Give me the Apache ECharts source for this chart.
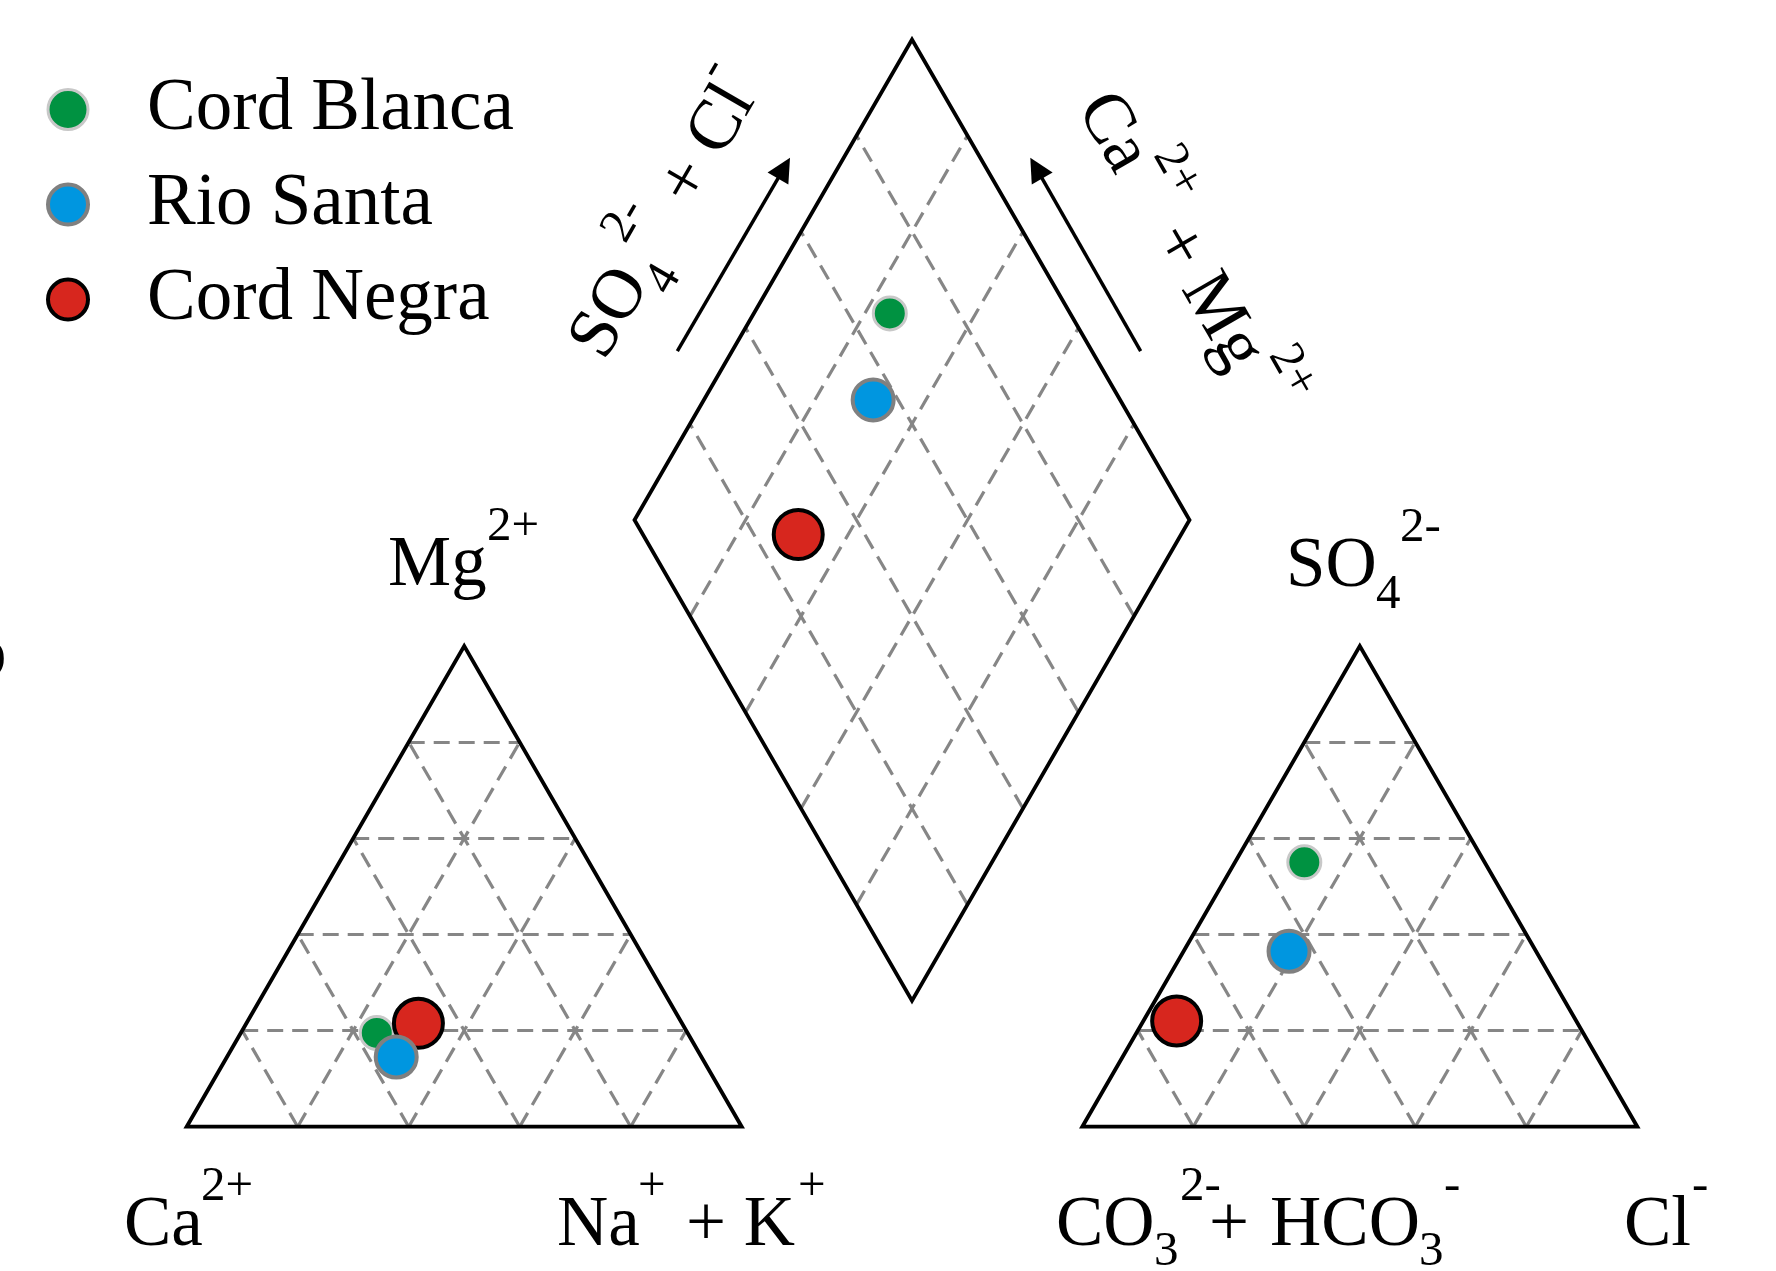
<!DOCTYPE html>
<html>
<head>
<meta charset="utf-8">
<script src="https://cdn.jsdelivr.net/npm/echarts@6/dist/echarts.min.js"></script>
<style>
  html, body { margin: 0; padding: 0; background: #ffffff; }
  #chart { width: 1776px; height: 1271px; }
</style>
</head>
<body>
<div id="chart"></div>
<script>
// Piper diagram: cation triangle, anion triangle and the central diamond.

// Sample groups
const samples = ['Cord Blanca', 'Rio Santa', 'Cord Negra'];

// Cations, % meq
const caPct  = [56, 55, 47.5];
const mgPct  = [19.5, 14.5, 21.5];
const naKPct = [24.5, 30.5, 31];

// Anions, % meq
const hco3Pct = [32.5, 44.5, 72];
const so4Pct  = [55, 36.5, 22];
const clPct   = [12.5, 19, 6];

// Grid divisions (fractions of each ternary axis)
const gridSteps = [0.2, 0.4, 0.6, 0.8];

// ---- geometry (unit = triangle side) ----
const H = Math.sqrt(3) / 2;
const GAP = 0.6137;                    // space between the two triangles
const RX0 = 1 + GAP;                   // left corner of the anion triangle
const DB = [1 + GAP / 2, 0.227];       // bottom corner of the diamond
const E1 = [-0.5, H];                  // diamond edge towards the left corner (Ca + Mg)
const E2 = [0.5, H];                   // diamond edge towards the right corner (SO4 + Cl)

function cationXY(i) {
  const mg = mgPct[i] / 100, na = naKPct[i] / 100;
  return [na + 0.5 * mg, H * mg];
}
function anionXY(i) {
  const so4 = so4Pct[i] / 100, cl = clPct[i] / 100;
  return [RX0 + cl + 0.5 * so4, H * so4];
}
function diamondPoint(a, b) {
  return [DB[0] + a * E1[0] + b * E2[0], DB[1] + a * E1[1] + b * E2[1]];
}
function diamondXY(i) {
  return diamondPoint((caPct[i] + mgPct[i]) / 100, (so4Pct[i] + clPct[i]) / 100);
}

// outlines start mid-edge so every corner gets a proper join
function triOutline(x0) {
  return [[x0 + 0.5, 0], [x0 + 1, 0], [x0 + 0.5, H], [x0, 0], [x0 + 0.5, 0]];
}
const diamondOutline = [diamondPoint(0.5, 0), diamondPoint(1, 0), diamondPoint(1, 1),
                        diamondPoint(0, 1), diamondPoint(0, 0), diamondPoint(0.5, 0)];

function triGrid(x0) {
  const segs = [];
  gridSteps.forEach(k => {
    segs.push([[x0 + 0.5 * k, H * k], [x0 + 1 - 0.5 * k, H * k]]);
    segs.push([[x0 + k, 0], [x0 + k + 0.5 * (1 - k), H * (1 - k)]]);
    segs.push([[x0 + k, 0], [x0 + 0.5 * k, H * k]]);
  });
  return segs;
}
function diamondGrid() {
  const segs = [];
  gridSteps.forEach(k => {
    segs.push([diamondPoint(k, 0), diamondPoint(k, 1)]);
    segs.push([diamondPoint(0, k), diamondPoint(1, k)]);
  });
  return segs;
}
const gridSegs = triGrid(0).concat(triGrid(RX0), diamondGrid());

// arrows beside the diamond
const arrowSegs = [
  [[0.884, 1.3975], [1.0762, 1.7272]],
  [[1.7188, 1.3975], [1.5307, 1.7272]]
];

// marker styles per sample group
const markerStyles = [
  { color: '#009241', borderColor: '#c8c8c8', borderWidth: 3, size: 33, z: 3 },
  { color: '#0096e0', borderColor: '#808080', borderWidth: 4, size: 41, z: 5 },
  { color: '#d7261e', borderColor: '#000000', borderWidth: 4, size: 49, z: 4 }
];

// ---- text helpers ----
const FONT = 'Liberation Serif';
const F = 71, f = 49;
function piece(text, x, baseline, size) {
  return {
    type: 'text', x: x, y: baseline - 0.32 * size, silent: true,
    style: { text: text, fontSize: size, fontFamily: FONT, fill: '#000', align: 'left', verticalAlign: 'middle' }
  };
}
const SUP = -46, SUB = 19, BOT = 1249;
const labels = [
  piece('b', -29, 680, F),
  piece('Mg', 388, 589, F), piece('2+', 487, 589 + SUP, f),
  piece('SO', 1286, 590, F), piece('4', 1376, 590 + SUB + 2, f), piece('2-', 1400, 590 + SUP, f),
  piece('Ca', 124, BOT, F), piece('2+', 201, BOT + SUP, f),
  piece('Na', 557, BOT, F), piece('+', 638, BOT + SUP, f), piece('+ K', 686, BOT, F), piece('+', 798, BOT + SUP, f),
  piece('CO', 1056, BOT, F), piece('3', 1154, BOT + SUB, f), piece('2-', 1180, BOT + SUP, f),
  piece('+', 1209, BOT, F), piece('HCO', 1270, BOT, F), piece('3', 1419, BOT + SUB, f), piece('-', 1444, BOT + SUP, f),
  piece('Cl', 1624, BOT, F), piece('-', 1692, BOT + SUP, f),
  {
    type: 'group', x: 608, y: 364, rotation: Math.PI / 3,
    children: [
      piece('SO', 0, 0, F), piece('4', 89, SUB + 3, f), piece('2-', 112, -42, f),
      piece('+ Cl', 177, 0, F), piece('-', 300, -42, f)
    ]
  },
  {
    type: 'group', x: 1073, y: 110, rotation: -Math.PI / 3,
    children: [
      piece('Ca', 0, 0, F), piece('2+', 79, -44, f),
      piece('+ Mg', 150.6, 0, F), piece('2+', 310, -44, f)
    ]
  }
];

// ---- series ----
const series = [
  {
    type: 'lines', coordinateSystem: 'cartesian2d', silent: true, z: 1,
    lineStyle: { color: '#868686', width: 3.2, type: [16, 9], opacity: 1 },
    data: gridSegs.map(s => ({ coords: s }))
  },
  {
    type: 'lines', coordinateSystem: 'cartesian2d', silent: true, z: 2,
    symbol: ['none', 'triangle'], symbolSize: [18, 24],
    lineStyle: { color: '#000000', width: 3.5, opacity: 1 },
    itemStyle: { color: '#000000' },
    data: arrowSegs.map(s => ({ coords: s }))
  }
];
[triOutline(0), triOutline(RX0), diamondOutline].forEach(outline => {
  series.push({
    type: 'line', data: outline, symbol: 'none', silent: true, z: 2,
    lineStyle: { color: '#000000', width: 3.8, join: 'miter' }
  });
});
samples.forEach((name, i) => {
  const st = markerStyles[i];
  series.push({
    name: name, type: 'scatter', z: st.z,
    symbol: 'circle', symbolSize: st.size,
    itemStyle: { color: st.color, borderColor: st.borderColor, borderWidth: st.borderWidth, opacity: 1 },
    data: [cationXY(i), anionXY(i), diamondXY(i)]
  });
});

const chart = echarts.init(document.getElementById('chart'), null, { renderer: 'canvas' });
chart.setOption({
  animation: false,
  backgroundColor: '#ffffff',
  grid: { left: 0, right: 0, top: 0, bottom: 0 },
  xAxis: { type: 'value', min: -0.33640, max: 2.86360, show: false },
  yAxis: { type: 'value', min: -0.26, max: 2.03009, show: false },
  legend: {
    orient: 'vertical', left: 41, top: 68,
    itemWidth: 40, itemHeight: 40, itemGap: 22,
    icon: 'circle', selectedMode: false,
    textStyle: { fontFamily: FONT, fontSize: 73, color: '#000', lineHeight: 40, padding: [0, 0, 0, 54] },
    data: samples.map((name, i) => ({
      name: name,
      itemStyle: { color: markerStyles[i].color, borderColor: markerStyles[i].borderColor, borderWidth: markerStyles[i].borderWidth }
    }))
  },
  graphic: { elements: labels },
  series: series
});
</script>
</body>
</html>
